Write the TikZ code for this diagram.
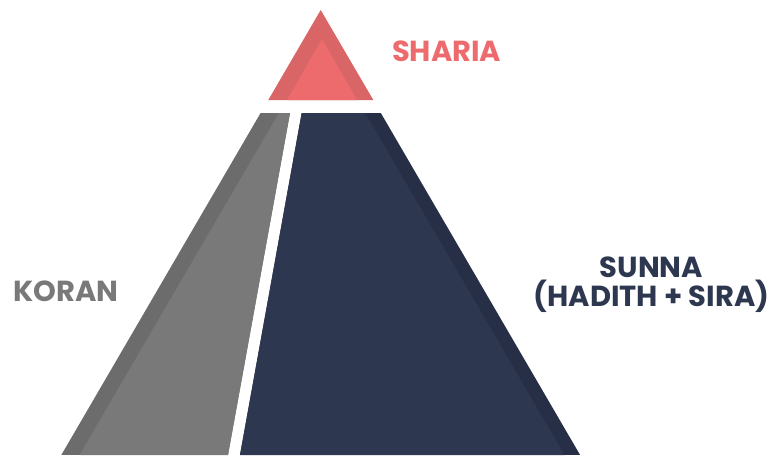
\documentclass[tikz,border=0pt]{standalone}
\usepackage{fontspec}
\setmainfont{Poppins}
\definecolor{shariaout}{HTML}{D96566}
\definecolor{shariain}{HTML}{EE6B6D}
\definecolor{koranout}{HTML}{6C6C6C}
\definecolor{koranin}{HTML}{797979}
\definecolor{sunnaout}{HTML}{262F45}
\definecolor{sunnain}{HTML}{2D374F}
\tikzset{tagtext/.style={font=\bfseries\fontsize{29}{29}\selectfont, align=center, inner sep=0pt}}
\begin{document}
\begin{tikzpicture}[x=1pt,y=-1pt]
		\useasboundingbox (0,0) rectangle (770,455);
		
		\fill[shariaout] (320.7,10) -- (373.3,100) -- (268.3,100) -- cycle;
		\fill[shariain] (322,39) -- (357,100) -- (287,100) -- cycle;
		
		\begin{scope}
			\clip (260.6,113) -- (290,113) -- (228,455) -- (61.3,455) -- cycle;
			\fill[koranout] (0,0) rectangle (770,455);
			\fill[koranin] (322,39) -- (564.5,455) -- (79.5,455) -- cycle;
		\end{scope}
		
		\begin{scope}
			\clip (301.7,113) -- (380.8,113) -- (580.1,455) -- (240,455) -- cycle;
			\fill[sunnaout] (0,0) rectangle (770,455);
			\fill[sunnain] (322,39) -- (564.5,455) -- (79.5,455) -- cycle;
		\end{scope}
		
		\node[tagtext, text=shariain] at (446.7,51) (sharia) {SHARIA};
		\node[tagtext, text=koranin] at (66,291) (koran) {KORAN};
		\node[tagtext, text=sunnain] at (651.5,285) (sunna) {SUNNA\\(HADITH + SIRA)};
	\end{tikzpicture}
\end{document}
